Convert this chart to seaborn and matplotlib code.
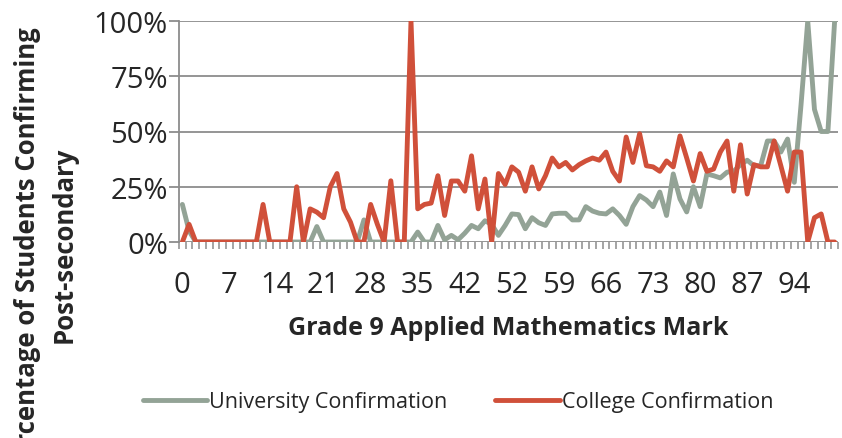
import pandas as pd
import seaborn as sns
import matplotlib.pyplot as plt
from matplotlib.ticker import FixedLocator, FuncFormatter

# Grade 9 applied math marks present in the data (43-45 have no students)
marks = list(range(0, 43)) + list(range(46, 101))

university = [17, 5, 0, 0, 0, 0, 0, 0, 0, 0,
              0, 0, 0, 0, 0, 0, 0, 0, 0, 0,
              7, 0, 0, 0, 0, 0, 0, 10, 0, 0,
              0, 0, 0, 0, 0, 4.5, 0, 0, 7.5, 1,
              3, 1, 4, 7.5, 6, 9.6, 8, 3, 7.5, 12.7,
              12.4, 6, 11, 8.7, 7.5, 12.7, 13, 13, 10, 10,
              16, 14, 13, 12.7, 15, 12, 8, 16, 21, 19,
              16, 22.6, 12, 30.8, 19.5, 13.6, 25, 16, 30.8, 30,
              29, 31.6, 32, 35, 37, 34.5, 34.5, 45.7, 45.7, 40.7,
              46.6, 27, 62, 100, 60, 50, 50, 100]

college = [0, 8, 0, 0, 0, 0, 0, 0, 0, 0,
           0, 0, 17, 0, 0, 0, 0, 25, 0, 15,
           13.5, 11, 25, 31, 15, 9, 0, 0, 17, 8,
           0, 27.7, 0, 0, 100, 15, 17, 17.6, 30, 12,
           27.6, 27.6, 23, 39, 15, 28.5, 0, 31, 26, 34,
           31.6, 23, 34, 24, 30, 38, 34, 36, 32.6, 35,
           36.7, 38, 37, 40.7, 32, 27.6, 47.5, 36, 49, 34.5,
           34, 32, 36.7, 34, 48, 38, 27.6, 40, 32, 33,
           40.7, 45.7, 23, 44, 21.7, 35, 34, 34, 45.7, 34.5,
           23, 40.7, 40.7, 0, 11, 12.7, 0, 0]

y_ticks = [0, 25, 50, 75, 100]

sns.set_style('white')
plt.rcParams['font.family'] = ['Open Sans', 'DejaVu Sans']

df = pd.DataFrame({'pos': range(len(marks)), 'mark': marks,
                   'University Confirmation': university,
                   'College Confirmation': college})
long_df = df.melt(id_vars=['pos', 'mark'], var_name='series', value_name='pct')

fig = plt.figure(figsize=(8.42, 4.39), dpi=100)
ax = fig.add_axes([179 / 842, 1 - 243 / 439, (838 - 179) / 842, (243 - 22) / 439])

sns.lineplot(data=long_df, x='pos', y='pct', hue='series',
             palette=['#93a396', '#d0503a'], linewidth=3.5, ax=ax)

ax.set_xlim(-0.5, len(marks) - 0.5)
ax.set_ylim(0, 100)

# y axis
ax.set_yticks(y_ticks)
ax.yaxis.set_major_formatter(FuncFormatter(lambda v, p: f'{v:.0f}%'))
ax.grid(axis='y', color='#8c8c8c', linewidth=1.3)
ax.set_axisbelow(True)

# x axis: label every 7th category, tick marks between categories
label_pos = list(range(0, len(marks), 7))
ax.xaxis.set_major_locator(FixedLocator(label_pos))
ax.set_xticklabels([str(marks[i]) for i in label_pos])
ax.xaxis.set_minor_locator(FixedLocator([i + 0.5 for i in range(-1, len(marks))]))
ax.tick_params(axis='x', which='major', length=0, pad=20, labelsize=21)
ax.tick_params(axis='x', which='minor', length=5, width=1.1, color='#8c8c8c', bottom=True)
ax.tick_params(axis='y', which='major', length=7, width=1.3, color='#8c8c8c', pad=1, labelsize=21, left=True)

for side in ['top', 'right', 'bottom']:
    ax.spines[side].set_visible(False)
ax.spines['left'].set_color('#8c8c8c')
ax.spines['left'].set_linewidth(1.3)

ax.set_xlabel('Grade 9 Applied Mathematics Mark', fontsize=18, fontweight='bold', labelpad=12)
ax.set_ylabel('')

# axis title runs off the left/bottom edge, as in the source chart
fig.text(28 / 842, 1 - 252 / 439, 'Percentage of Students Confirming',
         rotation=90, ha='center', va='center', fontsize=18.5, fontweight='bold')
fig.text(64 / 842, 1 - 245 / 439, 'Post-secondary',
         rotation=90, ha='center', va='center', fontsize=18.5, fontweight='bold')

ax.get_legend().remove()
handles, labels = ax.get_legend_handles_labels()
fig.legend(handles, labels, loc='center', bbox_to_anchor=(458 / 842, 1 - 403 / 439),
           ncol=2, frameon=False, fontsize=15.5, handlelength=3.0, handletextpad=0.1,
           columnspacing=2.2)

fig.savefig('out.png', dpi=100)
